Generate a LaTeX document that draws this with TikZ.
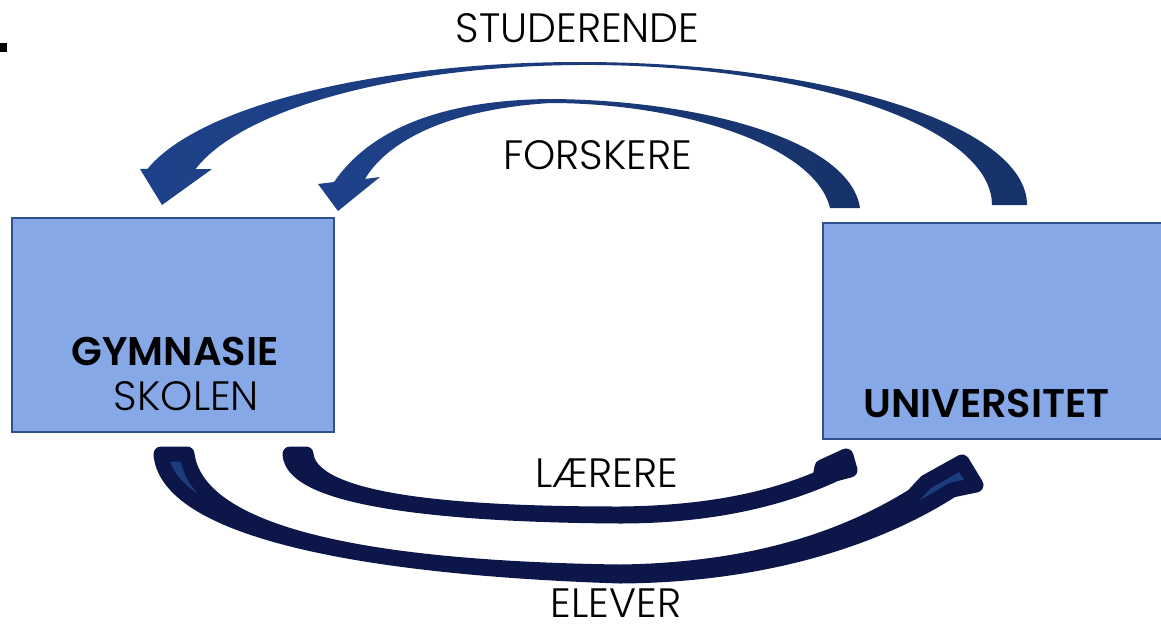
\documentclass[tikz,border=0pt]{standalone}
\usepackage{fontspec}
\setmainfont{Poppins}[UprightFont=* Light,BoldFont=* SemiBold]
\definecolor{boxfill}{RGB}{134,168,231}
\definecolor{boxline}{RGB}{47,82,143}
\definecolor{navy}{RGB}{12,22,72}
\definecolor{midblue}{RGB}{28,60,128}
\definecolor{arrowleft}{RGB}{30,66,138}
\definecolor{arrowright}{RGB}{22,50,105}
\begin{document}
\begin{tikzpicture}[x=1pt,y=-1pt,
    box/.style={draw=boxline,line width=1.5pt,fill=boxfill,inner sep=0pt},
    lbl/.style={font=\fontsize{41}{45}\selectfont,anchor=base,inner sep=0pt},
    blbl/.style={lbl,font=\fontsize{40}{44}\selectfont\bfseries},
    toparrow/.style={left color=arrowleft,right color=arrowright},
    botarrow/.style={draw=navy,fill=midblue,line width=15pt,line join=round}]
    \useasboundingbox (0,0) rectangle (1161,627);
    \fill (0,43) rectangle (6.5,52);
    \node[box,minimum width=322pt,minimum height=214pt] (gymnasie) at (173,325) {};
    \node[box,minimum width=339pt,minimum height=216pt] (universitet) at (992.5,331) {};
    \shade[toparrow] (1027,205) arc[start angle=0,end angle=-165.4,x radius=447,y radius=143]
        -- (140,169) -- (162,205) -- (212,169) -- (195.6,169)
        arc[start angle=-165.1,end angle=0,x radius=405,y radius=140] -- cycle;
    \shade[toparrow] (860,208) .. controls (850,140) and (700,100) .. (550,99)
        .. controls (440,100) and (370,130) .. (334,182)
        -- (318,184) -- (338,211) -- (380,177) -- (365,179)
        .. controls (385,145) and (440,110) .. (550,103)
        .. controls (680,103) and (815,145) .. (830,208) -- cycle;
    \filldraw[botarrow] (161,454) .. controls (166,520) and (320,566) .. (620,576)
        .. controls (780,575) and (890,530) .. (952,490)
        -- (976,485) -- (962,462) -- (926,482) -- (913,496)
        .. controls (850,535) and (760,570) .. (620,572)
        .. controls (330,568) and (196,525) .. (187,454) -- cycle;
    \filldraw[botarrow] (290,454) .. controls (292,500) and (450,515) .. (620,516)
        .. controls (720,516) and (790,495) .. (835,474)
        -- (850,470) -- (846,456) -- (822,467) -- (820,478)
        .. controls (780,495) and (720,513) .. (620,514)
        .. controls (440,514) and (310,500) .. (306,454) -- cycle;
    \node[blbl] (gymlabel) at (175,365) {GYMNASIE};
    \node[lbl] (skolen) at (186.5,410) {SKOLEN};
    \node[blbl] (unilabel) at (986.5,417) {UNIVERSITET};
    \node[lbl] (studerende) at (577.5,42) {STUDERENDE};
    \node[lbl] (forskere) at (597.5,169) {FORSKERE};
    \node[lbl] (laerere) at (606.5,487) {LÆRERE};
    \node[lbl] (elever) at (616,617) {ELEVER};
\end{tikzpicture}
\end{document}
